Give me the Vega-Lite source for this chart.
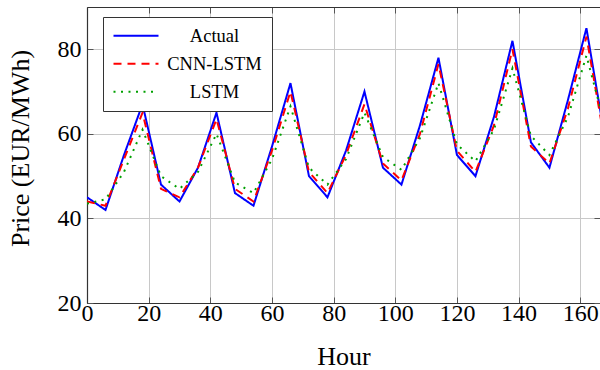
{
  "$schema": "https://vega.github.io/schema/vega-lite/v6.json",
  "width": 513,
  "height": 296,
  "autosize": {"type": "none"},
  "padding": {"left": 87, "top": 7, "right": 0, "bottom": 67},
  "background": "white",
  "config": {
    "view": {"stroke": null},
    "font": "Liberation Serif",
    "axis": {
      "labelFont": "Liberation Serif",
      "titleFont": "Liberation Serif",
      "labelFontSize": 24,
      "titleFontSize": 26,
      "labelColor": "#000",
      "titleColor": "#000",
      "titleFontWeight": "normal",
      "labelFlush": false,
      "labelOverlap": false,
      "gridColor": "#c8c8c8",
      "gridWidth": 1,
      "gridOpacity": 1,
      "domainColor": "#333",
      "domainWidth": 1.2,
      "tickColor": "#555",
      "tickSize": -6,
      "tickWidth": 1
    },
    "legend": {
      "labelFont": "Liberation Serif"
    }
  },
  "datasets": {
    "prices": [
      {"hour": 0, "series": "Actual", "price": 45},
      {"hour": 6, "series": "Actual", "price": 42},
      {"hour": 12, "series": "Actual", "price": 55},
      {"hour": 18, "series": "Actual", "price": 67},
      {"hour": 24, "series": "Actual", "price": 48},
      {"hour": 30, "series": "Actual", "price": 44},
      {"hour": 36, "series": "Actual", "price": 52},
      {"hour": 42, "series": "Actual", "price": 65},
      {"hour": 48, "series": "Actual", "price": 46},
      {"hour": 54, "series": "Actual", "price": 43},
      {"hour": 60, "series": "Actual", "price": 57},
      {"hour": 66, "series": "Actual", "price": 72},
      {"hour": 72, "series": "Actual", "price": 50},
      {"hour": 78, "series": "Actual", "price": 45},
      {"hour": 84, "series": "Actual", "price": 56},
      {"hour": 90, "series": "Actual", "price": 70},
      {"hour": 96, "series": "Actual", "price": 52},
      {"hour": 102, "series": "Actual", "price": 48},
      {"hour": 108, "series": "Actual", "price": 62},
      {"hour": 114, "series": "Actual", "price": 78},
      {"hour": 120, "series": "Actual", "price": 55},
      {"hour": 126, "series": "Actual", "price": 50},
      {"hour": 132, "series": "Actual", "price": 64},
      {"hour": 138, "series": "Actual", "price": 82},
      {"hour": 144, "series": "Actual", "price": 58},
      {"hour": 150, "series": "Actual", "price": 52},
      {"hour": 156, "series": "Actual", "price": 68},
      {"hour": 162, "series": "Actual", "price": 85},
      {"hour": 168, "series": "Actual", "price": 59},
      {"hour": 0, "series": "CNN-LSTM", "price": 44},
      {"hour": 6, "series": "CNN-LSTM", "price": 43},
      {"hour": 12, "series": "CNN-LSTM", "price": 54},
      {"hour": 18, "series": "CNN-LSTM", "price": 65},
      {"hour": 24, "series": "CNN-LSTM", "price": 47},
      {"hour": 30, "series": "CNN-LSTM", "price": 45},
      {"hour": 36, "series": "CNN-LSTM", "price": 52},
      {"hour": 42, "series": "CNN-LSTM", "price": 63.5},
      {"hour": 48, "series": "CNN-LSTM", "price": 47},
      {"hour": 54, "series": "CNN-LSTM", "price": 44},
      {"hour": 60, "series": "CNN-LSTM", "price": 56},
      {"hour": 66, "series": "CNN-LSTM", "price": 70},
      {"hour": 72, "series": "CNN-LSTM", "price": 51},
      {"hour": 78, "series": "CNN-LSTM", "price": 46},
      {"hour": 84, "series": "CNN-LSTM", "price": 55},
      {"hour": 90, "series": "CNN-LSTM", "price": 67},
      {"hour": 96, "series": "CNN-LSTM", "price": 53},
      {"hour": 102, "series": "CNN-LSTM", "price": 49},
      {"hour": 108, "series": "CNN-LSTM", "price": 60},
      {"hour": 114, "series": "CNN-LSTM", "price": 76.5},
      {"hour": 120, "series": "CNN-LSTM", "price": 56},
      {"hour": 126, "series": "CNN-LSTM", "price": 51},
      {"hour": 132, "series": "CNN-LSTM", "price": 62},
      {"hour": 138, "series": "CNN-LSTM", "price": 80},
      {"hour": 144, "series": "CNN-LSTM", "price": 57},
      {"hour": 150, "series": "CNN-LSTM", "price": 53},
      {"hour": 156, "series": "CNN-LSTM", "price": 66},
      {"hour": 162, "series": "CNN-LSTM", "price": 83},
      {"hour": 168, "series": "CNN-LSTM", "price": 58},
      {"hour": 0, "series": "LSTM", "price": 43.5},
      {"hour": 6, "series": "LSTM", "price": 44.5},
      {"hour": 12, "series": "LSTM", "price": 51},
      {"hour": 18, "series": "LSTM", "price": 61},
      {"hour": 24, "series": "LSTM", "price": 50},
      {"hour": 30, "series": "LSTM", "price": 47},
      {"hour": 36, "series": "LSTM", "price": 51},
      {"hour": 42, "series": "LSTM", "price": 60},
      {"hour": 48, "series": "LSTM", "price": 48.5},
      {"hour": 54, "series": "LSTM", "price": 46},
      {"hour": 60, "series": "LSTM", "price": 54},
      {"hour": 66, "series": "LSTM", "price": 66.5},
      {"hour": 72, "series": "LSTM", "price": 52},
      {"hour": 78, "series": "LSTM", "price": 48},
      {"hour": 84, "series": "LSTM", "price": 54},
      {"hour": 90, "series": "LSTM", "price": 65},
      {"hour": 96, "series": "LSTM", "price": 54.5},
      {"hour": 102, "series": "LSTM", "price": 51.5},
      {"hour": 108, "series": "LSTM", "price": 59},
      {"hour": 114, "series": "LSTM", "price": 72},
      {"hour": 120, "series": "LSTM", "price": 57.5},
      {"hour": 126, "series": "LSTM", "price": 53.5},
      {"hour": 132, "series": "LSTM", "price": 61},
      {"hour": 138, "series": "LSTM", "price": 75.5},
      {"hour": 144, "series": "LSTM", "price": 59.5},
      {"hour": 150, "series": "LSTM", "price": 55},
      {"hour": 156, "series": "LSTM", "price": 64},
      {"hour": 162, "series": "LSTM", "price": 78.5},
      {"hour": 168, "series": "LSTM", "price": 62}
    ]
  },
  "data": {"name": "prices"},
  "layer": [
    {
      "mark": {"type": "line", "opacity": 0, "clip": true},
      "encoding": {
        "x": {
          "field": "hour", "type": "quantitative",
          "scale": {"domain": [0, 166.4], "nice": false, "zero": false},
          "axis": {"orient": "top", "title": null, "labels": false, "grid": true, "domain": true, "values": [0, 20, 40, 60, 80, 100, 120, 140, 160]}
        },
        "y": {
          "field": "price", "type": "quantitative",
          "scale": {"domain": [20, 90], "nice": false, "zero": false},
          "axis": {"orient": "right", "title": null, "labels": false, "grid": true, "domain": false, "values": [20, 40, 60, 80]}
        },
        "detail": {"field": "series", "type": "nominal"}
      }
    },
    {
      "mark": {"type": "line", "clip": true, "strokeWidth": 2},
      "encoding": {
        "x": {
          "field": "hour", "type": "quantitative",
          "axis": {
            "orient": "bottom", "title": "Hour", "values": [0, 20, 40, 60, 80, 100, 120, 140, 160],
            "grid": false, "labelPadding": 4, "titleBaseline": "alphabetic", "titleY": 61
          }
        },
        "y": {
          "field": "price", "type": "quantitative",
          "axis": {
            "orient": "left", "title": "Price (EUR/MWh)", "values": [20, 40, 60, 80],
            "grid": false, "labelPadding": 12, "labelBaseline": "middle",
            "titleBaseline": "alphabetic", "titleX": -59, "titleY": 141, "titleAngle": -90, "titleAlign": "center"
          }
        },
        "color": {
          "field": "series", "type": "nominal",
          "scale": {"domain": ["Actual", "CNN-LSTM", "LSTM"], "range": ["#0000ff", "#ff0000", "#00a000"]},
          "legend": {
            "title": null, "orient": "none", "legendX": 16, "legendY": 10,
            "fillColor": "white", "strokeColor": "#333", "padding": 9.5,
            "symbolType": "stroke", "symbolSize": 2025, "symbolStrokeWidth": 2, "clipHeight": 18.5,
            "labelFontSize": 18.5, "labelColor": "#000", "labelAlign": "center", "labelOffset": 55,
            "rowPadding": 9, "cornerRadius": 0
          }
        },
        "strokeDash": {
          "field": "series", "type": "nominal",
          "scale": {"domain": ["Actual", "CNN-LSTM", "LSTM"], "range": [[1, 0], [8, 6], [2, 5.5]]},
          "legend": {
            "title": null, "orient": "none", "legendX": 16, "legendY": 10,
            "fillColor": "white", "strokeColor": "#333", "padding": 9.5,
            "symbolType": "stroke", "symbolSize": 2025, "symbolStrokeWidth": 2, "clipHeight": 18.5,
            "labelFontSize": 18.5, "labelColor": "#000", "labelAlign": "center", "labelOffset": 55,
            "rowPadding": 9, "cornerRadius": 0
          }
        }
      }
    }
  ],
  "resolve": {"axis": {"x": "independent", "y": "independent"}}
}
